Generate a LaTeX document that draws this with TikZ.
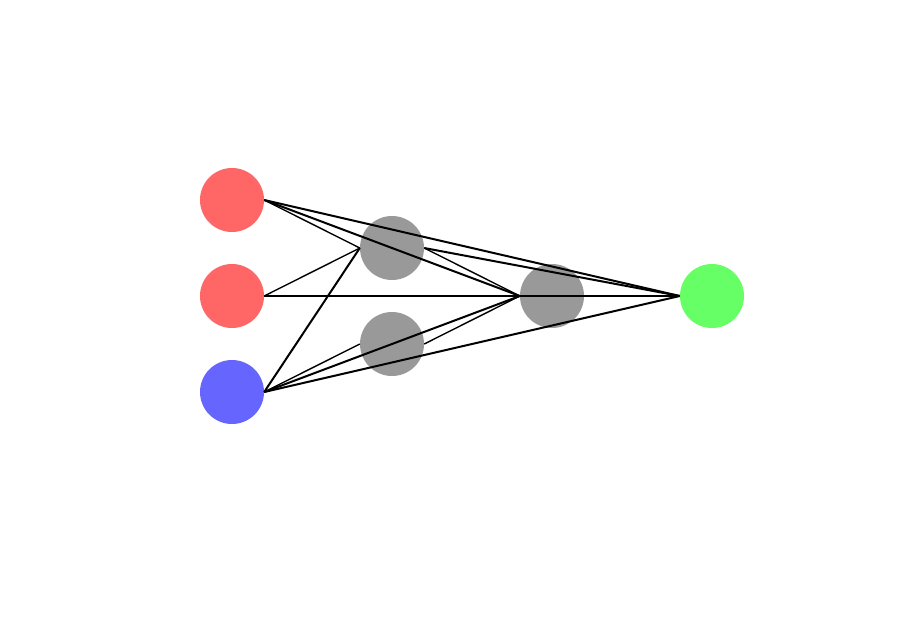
\documentclass[tikz,border=0pt]{standalone}
\begin{document}
\begin{tikzpicture}[x=1pt,y=-1pt,
  neuron/.style={circle,minimum size=64pt,inner sep=0pt,draw=none},
  inred/.style={neuron,fill={rgb,255:red,255;green,102;blue,102}},
  inblue/.style={neuron,fill={rgb,255:red,102;green,102;blue,255}},
  hid/.style={neuron,fill={rgb,255:red,153;green,153;blue,153}},
  outg/.style={neuron,fill={rgb,255:red,102;green,255;blue,102}},
  wthick/.style={line width=2pt,black},
  wthin/.style={line width=1.4pt,black}]
\useasboundingbox (0,0) rectangle (912,624);
\node[inred] (i1) at (232,200) {};
\node[inred] (i2) at (232,296) {};
\node[inblue] (i3) at (232,392) {};
\node[hid] (h1) at (392,248) {};
\node[hid] (h2) at (392,344) {};
\node[hid] (h3) at (552,296) {};
\node[outg] (o) at (712,296) {};
\draw[wthin] (i1.east) -- (h1.west);
\draw[wthick] (i1.east) -- (h3.west);
\draw[wthick] (i1.east) -- (o.west);
\draw[wthin] (i2.east) -- (h1.west);
\draw[wthick] (i2.east) -- (h3.west);
\draw[wthick] (i2.east) -- (o.west);
\draw[wthick] (i3.east) -- (h1.west);
\draw[wthin] (i3.east) -- (h2.west);
\draw[wthick] (i3.east) -- (h3.west);
\draw[wthick] (i3.east) -- (o.west);
\draw[wthin] (h1.east) -- (h3.west);
\draw[wthick] (h1.east) -- (o.west);
\draw[wthin] (h2.east) -- (h3.west);
\draw[wthick] (h3.east) -- (o.west);
\end{tikzpicture}
\end{document}
